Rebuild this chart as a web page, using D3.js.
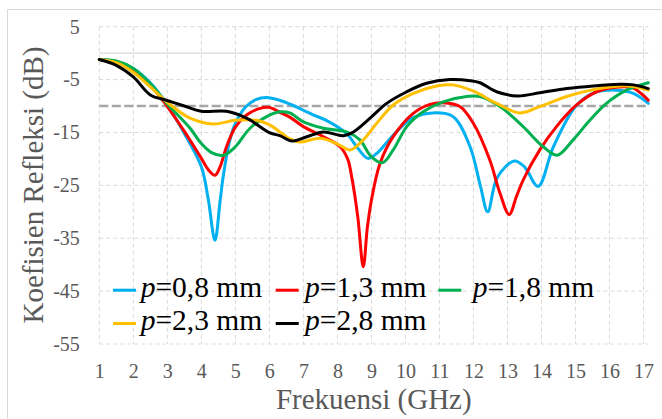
<!DOCTYPE html>
<html>
<head>
<meta charset="utf-8">
<script src="https://cdn.jsdelivr.net/npm/d3@7/dist/d3.min.js"></script>
<style>
  html, body { margin: 0; padding: 0; background: #fff; }
  svg { display: block; }
  svg text { font-family: "Liberation Serif", "Times New Roman", serif; }
</style>
</head>
<body>
<svg id="chart" width="662" height="419"></svg>
<script>
// ---------- data ----------
const xTicks = [1,2,3,4,5,6,7,8,9,10,11,12,13,14,15,16,17];
const yTicks = [5,-5,-15,-25,-35,-45,-55];
const refLevel = -10;

const seriesNames = ["0,8 mm", "1,3 mm", "1,8 mm", "2,3 mm", "2,8 mm"];
const seriesColors = ["#00b0f0", "#ff0000", "#00b050", "#ffc000", "#000000"];

// [frequency GHz, S11 dB]
const p08 = [[1.0,-1.2],[1.5,-1.6],[2.0,-2.9],[2.5,-5.6],[3.0,-9.8],[3.5,-15.2],[4.0,-21.5],[4.2,-27.5],[4.4,-35.4],[4.55,-28],[4.65,-23],[4.84,-16.4],[5.0,-13.3],[5.3,-10.2],[5.6,-8.8],[5.92,-8.4],[6.3,-8.9],[6.7,-9.9],[7.0,-10.8],[7.3,-11.7],[7.7,-12.8],[8.27,-15.2],[8.6,-18.0],[8.9,-19.9],[9.2,-18.7],[9.6,-15.8],[10.2,-12.3],[10.8,-11.3],[11.4,-12.0],[11.9,-17.7],[12.2,-25],[12.42,-30.0],[12.7,-23.5],[13.2,-20.4],[13.5,-21.5],[13.9,-25.2],[14.35,-17.7],[15.0,-10.1],[15.5,-7.6],[16.2,-7.0],[16.7,-7.6],[17.14,-9.5]];
const p13 = [[1.0,-1.2],[1.5,-1.7],[2.0,-3.2],[2.5,-6.0],[3.0,-10.1],[3.5,-14.8],[4.0,-19.9],[4.2,-22.0],[4.4,-23.1],[4.55,-21.5],[4.74,-17.7],[5.0,-14.0],[5.33,-11.7],[5.7,-10.5],[6.02,-10.3],[6.31,-11.2],[6.6,-12.1],[7.0,-13.9],[7.59,-15.8],[8.08,-17.7],[8.3,-20],[8.42,-23.4],[8.6,-31],[8.76,-40.4],[8.88,-33],[9.0,-27.8],[9.25,-20.9],[9.64,-15.8],[10.23,-11.4],[10.72,-9.7],[11.11,-9.4],[11.6,-10.1],[12.0,-13.3],[12.48,-20.2],[12.78,-26.5],[13.05,-30.5],[13.27,-27],[13.46,-24.0],[13.95,-18.3],[14.44,-13.9],[15.03,-9.8],[15.62,-7.3],[16.3,-6.4],[16.7,-6.6],[17.14,-8.9]];
const p18 = [[1.0,-1.2],[1.5,-1.5],[2.0,-2.9],[2.5,-5.8],[3.0,-9.6],[3.67,-14.2],[4.0,-17.1],[4.3,-18.8],[4.65,-19.3],[5.0,-17.7],[5.43,-14.2],[5.92,-12.0],[6.31,-11.1],[6.6,-11.3],[7.0,-13.0],[7.59,-14.2],[8.27,-14.9],[8.66,-16.4],[9.0,-19.6],[9.33,-20.7],[9.64,-18.3],[10.04,-13.9],[10.52,-11.1],[11.11,-9.2],[11.8,-8.2],[12.19,-8.2],[12.78,-10.1],[13.46,-13.9],[14.05,-17.7],[14.46,-19.3],[14.93,-16.4],[15.42,-12.7],[15.91,-9.5],[16.5,-7.0],[17.14,-5.6]];
const p23 = [[1.0,-1.2],[1.5,-1.8],[2.0,-3.6],[2.5,-6.4],[3.0,-9.3],[3.67,-12.3],[4.35,-13.4],[5.0,-12.7],[5.63,-12.7],[6.02,-13.6],[6.31,-14.9],[6.6,-16.2],[6.9,-16.8],[7.49,-16.1],[7.98,-17.1],[8.37,-18.3],[8.76,-16.4],[9.15,-13.3],[9.64,-9.8],[10.23,-7.6],[10.92,-6.2],[11.4,-6.0],[12.0,-7.2],[12.68,-9.5],[13.37,-11.3],[13.95,-10.1],[14.74,-8.2],[15.52,-6.9],[16.3,-6.2],[16.7,-6.3],[17.14,-7.0]];
const p28 = [[1.0,-1.2],[1.5,-2.3],[2.0,-4.5],[2.5,-7.9],[2.97,-8.9],[3.5,-10.0],[4.0,-11.0],[4.74,-11.0],[5.33,-12.3],[6.02,-15.1],[6.31,-15.6],[6.66,-16.6],[7.1,-15.8],[7.59,-14.9],[8.17,-15.6],[8.47,-14.9],[8.96,-12.3],[9.45,-9.5],[10.04,-7.3],[10.62,-5.7],[11.31,-5.0],[11.9,-5.2],[12.19,-5.6],[12.68,-7.3],[13.29,-8.1],[13.95,-7.5],[14.74,-6.7],[15.52,-6.2],[16.3,-5.9],[16.7,-6.0],[17.14,-6.7]];
const seriesData = [p08, p13, p18, p23, p28];

// ---------- layout ----------
const svg = d3.select("#chart");
const plotL = 99.3, plotR = 648.3, plotT = 26.7, plotB = 344;
const x = d3.scaleLinear().domain([1, 17.14]).range([plotL, plotR]);
const y = d3.scaleLinear().domain([-55, 5]).range([plotB, plotT]);

// outer chart border
svg.append("rect").attr("x", 7.5).attr("y", 9.5).attr("width", 700).attr("height", 500)
  .attr("fill", "none").attr("stroke", "#d9d9d9").attr("stroke-width", 1);

// gridlines
const grid = svg.append("g");
grid.selectAll("line.v").data(xTicks).join("line").attr("class", "v")
  .attr("x1", d => x(d)).attr("x2", d => x(d))
  .attr("y1", plotT).attr("y2", plotB)
  .attr("stroke", "#d9d9d9").attr("stroke-width", 1).attr("stroke-dasharray", "4,3");
grid.selectAll("line.h").data(yTicks).join("line").attr("class", "h")
  .attr("x1", plotL).attr("x2", plotR)
  .attr("y1", d => y(d)).attr("y2", d => y(d))
  .attr("stroke", "#d9d9d9").attr("stroke-width", 1).attr("stroke-dasharray", "4,3");
// horizontal axis line crossing at 0
svg.append("line").attr("x1", plotL).attr("x2", plotR).attr("y1", y(0)).attr("y2", y(0))
  .attr("stroke", "#d9d9d9").attr("stroke-width", 1.2);

// reference -10 dB line
svg.append("line").attr("x1", plotL).attr("x2", plotR).attr("y1", y(refLevel)).attr("y2", y(refLevel))
  .attr("stroke", "#a6a6a6").attr("stroke-width", 2.5).attr("stroke-dasharray", "9,3.5");

// axes (labels only)
const yAxis = svg.append("g").attr("transform", `translate(${plotL},0)`)
  .call(d3.axisLeft(y).tickValues(yTicks).tickSize(0).tickPadding(19.5).tickFormat(d3.format("d")));
const xAxis = svg.append("g").attr("transform", `translate(0,${plotB})`)
  .call(d3.axisBottom(x).tickValues(xTicks).tickSize(0).tickPadding(19.5).tickFormat(d3.format("d")));
[yAxis, xAxis].forEach(a => {
  a.select(".domain").remove();
  a.attr("font-family", null).attr("font-size", null);
  a.selectAll("text").style("font-size", "20px").attr("fill", "#595959");
});
yAxis.selectAll("text").text(d => d < 0 ? "-" + Math.abs(d) : d);

// series
const line = d3.line().x(d => x(d[0])).y(d => y(d[1])).curve(d3.curveCatmullRom.alpha(0.5));
svg.append("g").selectAll("path").data(seriesData).join("path")
  .attr("d", line).attr("fill", "none")
  .attr("stroke", (d, i) => seriesColors[i]).attr("stroke-width", 3)
  .attr("stroke-linejoin", "round").attr("stroke-linecap", "round");

// axis titles
svg.append("text").attr("x", 373.8).attr("y", 409).attr("text-anchor", "middle")
  .style("font-size", "29px").attr("fill", "#595959")
  .text("Frekuensi (GHz)");
svg.append("text").attr("transform", "translate(43,185) rotate(-90)").attr("text-anchor", "middle")
  .style("font-size", "29px").attr("fill", "#595959")
  .text("Koefisien Refleksi (dB)");

// legend
const legendColX = [113, 275.7, 438.3], legendTextGap = [27.7, 29.3, 34.4], rowY = [296.7, 330];
const lg = svg.append("g").selectAll("g").data(seriesNames).join("g")
  .attr("transform", (d, i) => `translate(${legendColX[i % 3]},${rowY[Math.floor(i / 3)]})`);
lg.append("line").attr("x1", 0).attr("x2", 23).attr("y1", -6.5).attr("y2", -6.5)
  .attr("stroke", (d, i) => seriesColors[i]).attr("stroke-width", 3);
const lt = lg.append("text").attr("x", (d, i) => legendTextGap[i % 3]).attr("y", 0)
  .style("font-size", "29.5px").attr("fill", "#000");
lt.append("tspan").attr("font-style", "italic").text("p");
lt.append("tspan").text(d => "=" + d);
</script>
</body>
</html>
